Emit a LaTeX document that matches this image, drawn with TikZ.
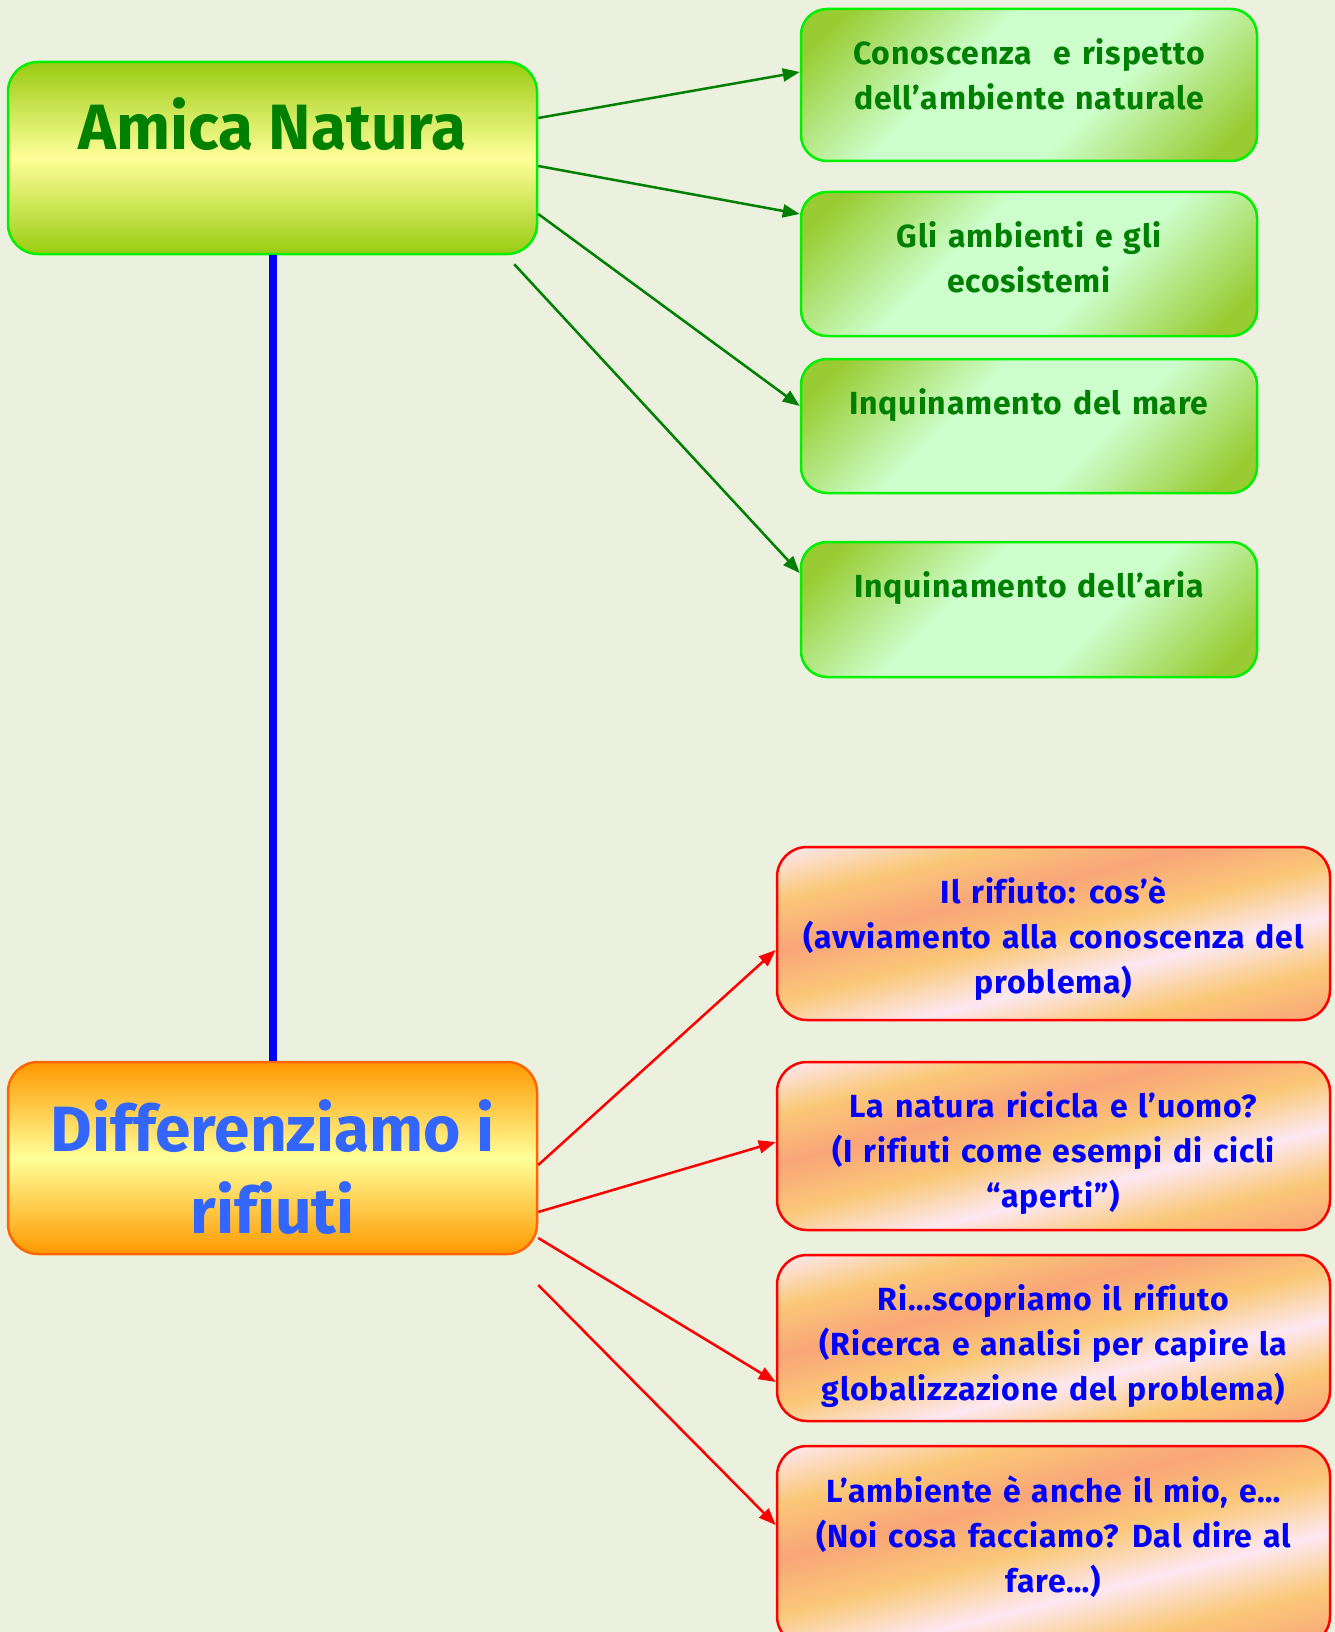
\documentclass[tikz,border=0pt]{standalone}
\usepackage{fontspec}
\setmainfont{Fira Sans}[Ligatures=CommonOff]
\newfontfamily\boxfont{Fira Sans}[LetterSpace=2.5, WordSpace=1.3, Ligatures=CommonOff]
\usepackage{tikz}
\usetikzlibrary{arrows.meta, positioning, calc}

\definecolor{bgcol}{RGB}{235,241,222}
\definecolor{leafgreen}{RGB}{153,204,51}
\definecolor{mintgreen}{RGB}{204,255,204}
\definecolor{limegreen}{RGB}{153,204,17}
\definecolor{paleyellow}{RGB}{255,255,153}
\definecolor{brightgreen}{RGB}{0,240,0}
\definecolor{darkgreen}{RGB}{0,128,0}
\definecolor{titleorange}{RGB}{255,153,0}
\definecolor{edgeorange}{RGB}{255,102,0}
\definecolor{titleblue}{RGB}{51,102,255}
\definecolor{stripepink}{RGB}{253,232,242}
\definecolor{stripegold}{RGB}{250,200,120}
\definecolor{stripesalmon}{RGB}{249,165,120}

\pgfdeclareverticalshading{leafshade}{100bp}{color(0bp)=(leafgreen); color(20bp)=(leafgreen);
  color(40bp)=(mintgreen); color(60bp)=(mintgreen); color(80bp)=(leafgreen); color(100bp)=(leafgreen)}
\pgfdeclareverticalshading{stripeshade}{100bp}{color(0bp)=(stripepink); color(10bp)=(stripegold);
  color(20bp)=(stripesalmon); color(30bp)=(stripegold); color(40bp)=(stripepink); color(50bp)=(stripegold);
  color(60bp)=(stripesalmon); color(70bp)=(stripegold); color(80bp)=(stripepink); color(90bp)=(stripegold);
  color(100bp)=(stripesalmon)}

\tikzset{
  topbox/.style={line width=2.5pt, rounded corners=30pt, minimum width=529pt, minimum height=192pt, inner sep=0pt},
  leafbox/.style={draw=brightgreen, line width=2.5pt, rounded corners=26pt, minimum width=456pt, inner sep=0pt,
    shade, shading=leafshade, shading angle=45},
  wastebox/.style={draw=red, line width=2.5pt, rounded corners=30pt, minimum width=553pt, inner sep=0pt,
    shade, shading=stripeshade, shading angle=14},
  leaftext/.style={font=\boxfont\bfseries\fontsize{32}{45}\selectfont, text=darkgreen, align=center, inner sep=0pt},
  wastetext/.style={font=\boxfont\bfseries\fontsize{32}{45}\selectfont, text=blue, align=center, inner sep=0pt},
  greenarrow/.style={darkgreen, line width=2.5pt, -{Triangle[length=17pt,width=13pt]}},
  redarrow/.style={red, line width=2.5pt, -{Triangle[length=17pt,width=13pt]}}
}

\begin{document}
\begin{tikzpicture}[x=1pt,y=-1pt]
\fill[bgcol] (0,0) rectangle (1335,1632);
\useasboundingbox (0,0) rectangle (1335,1632);

% main topics
\node[topbox, draw=brightgreen, top color=limegreen, bottom color=limegreen, middle color=paleyellow] (amica) at (272.5,158) {};
\node[font=\bfseries\fontsize{64}{82}\selectfont, text=darkgreen, inner sep=0pt] (amicat) at ($(amica.center)+(0,-34)$) {Amica Natura};
\node[topbox, draw=edgeorange, top color=titleorange, bottom color=titleorange, middle color=paleyellow] (diff) at (272.5,1158) {};
\node[font=\bfseries\fontsize{64}{82}\selectfont, text=titleblue, align=center, inner sep=0pt] (difft) at ($(diff.center)+(0,9)$) {Differenziamo i\\rifiuti};
\draw[blue, line width=8pt] (amica) -- (diff);

% green sub-topics
\foreach \n / \y / \h / \txt in {g1/85/152/{Conoscenza\ \ e rispetto\\dell’ambiente naturale},
  g2/264/144/{Gli ambienti e gli\\ecosistemi}, g3/426/134/{Inquinamento del mare},
  g4/609.5/135/{Inquinamento dell’aria}} {
\node[leafbox, minimum height=\h pt] (\n) at (1029,\y) {};
\node[leaftext, anchor=north] (\n t) at ([yshift=-31pt]\n.north) {\txt};
}

% red sub-topics
\foreach \n / \y / \h / \txt in {r1/933.5/173/{Il rifiuto: cos’è\\(avviamento alla conoscenza del\\problema)},
  r2/1146/168/{La natura ricicla e l’uomo?\\(I rifiuti come esempi di cicli\\“aperti”)},
  r3/1338/166/{Ri…scopriamo il rifiuto\\(Ricerca e analisi per capire la\\globalizzazione del problema)},
  r4/1546/200/{L’ambiente è anche il mio, e…\\(Noi cosa facciamo? Dal dire al\\fare…)}} {
\node[wastebox, minimum height=\h pt] (\n) at (1053.5,\y) {};
\node[wastetext, anchor=north] (\n t) at ([yshift=-31pt]\n.north) {\txt};
}

% arrows
\foreach \a / \b / \t in {-40/g1/-13, 8/g2/-50, 56/g3/-20} {
\draw[greenarrow] ($(amica.east)+(0,\a)$) -- ($(\b.west)+(0,\t)$);
}
\draw[greenarrow] ($(amica.south east)+(-24,9)$) -- ($(g4.west)+(0,-36.5)$);
\foreach \a / \b / \t in {7/r1/16.5, 54/r2/-4, 80/r3/44, 127/r4/-21} {
\draw[redarrow] ($(diff.east)+(0,\a)$) -- ($(\b.west)+(0,\t)$);
}
\end{tikzpicture}
\end{document}
